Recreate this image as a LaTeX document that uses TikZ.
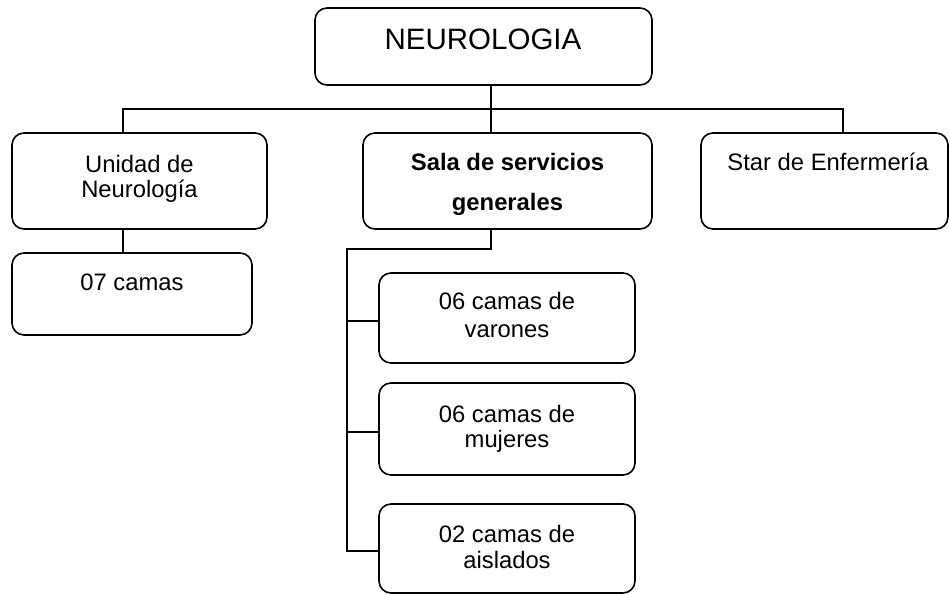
\documentclass[tikz,border=0pt]{standalone}
\usepackage{fontspec}
\setmainfont{Liberation Sans}
\begin{document}
\begin{tikzpicture}[x=1pt,y=-1pt,
  box/.style={draw, line width=1.6pt, rounded corners=12pt, inner sep=0pt},
  lbl/.style={inner sep=0pt, align=center},
  conn/.style={line width=1.6pt}]
\useasboundingbox (0,0) rectangle (950,594);
% boxes
\node[box, minimum width=337pt, minimum height=77pt] (N) at (483.5,46.5) {};
\node[box, minimum width=255pt, minimum height=96pt] (U) at (139.5,181) {};
\node[box, minimum width=289pt, minimum height=96pt] (S) at (507.5,181) {};
\node[box, minimum width=247pt, minimum height=96pt] (E) at (824.5,181) {};
\node[box, minimum width=240pt, minimum height=82pt] (C) at (132,294) {};
\node[box, minimum width=256pt, minimum height=90pt] (V) at (507,318) {};
\node[box, minimum width=256pt, minimum height=92pt] (M) at (507,429) {};
\node[box, minimum width=256pt, minimum height=89pt] (A) at (507,548.5) {};
% labels
\node[lbl, anchor=base, font=\fontsize{29.5}{32}\selectfont] (Nt) at (483,50) {NEUROLOGIA};
\node[lbl, anchor=north, font=\fontsize{23.8}{25}\selectfont] (Ut) at (139.5,155) {Unidad de\\Neurología};
\node[lbl, anchor=north, font=\fontsize{23.8}{40}\selectfont\bfseries] (St) at (507.5,153) {Sala de servicios\\generales};
\node[lbl, anchor=base, font=\fontsize{23.8}{25}\selectfont] (Et) at (828,170) {Star de Enfermería};
\node[lbl, anchor=base, font=\fontsize{23.8}{25}\selectfont] (Ct) at (132,290) {07 camas};
\node[lbl, anchor=north, font=\fontsize{23.8}{28}\selectfont] (Vt) at (507,292) {06 camas de\\varones};
\node[lbl, anchor=north, font=\fontsize{23.8}{25}\selectfont] (Mt) at (507,405) {06 camas de\\mujeres};
\node[lbl, anchor=north, font=\fontsize{23.8}{26}\selectfont] (At) at (507,525) {02 camas de\\aislados};
% connectors
\coordinate (jL) at (123,109);
\coordinate (jM) at (491,109);
\coordinate (jR) at (843,109);
\draw[conn] (jM |- N.south) -- (jM);
\draw[conn] (jL |- U.north) -- (jL) -- (jR) -- (jR |- E.north);
\draw[conn] (jM) -- (jM |- S.north);
\draw[conn] (jL |- U.south) -- (jL |- C.north);
\coordinate (k1) at (491,249);
\coordinate (k2) at (347,249);
\coordinate (b1) at (347,321);
\coordinate (b2) at (347,432);
\coordinate (b3) at (347,551);
\draw[conn] (k1 |- S.south) -- (k1) -- (k2) -- (b3) -- (b3 -| A.west);
\draw[conn] (b1) -- (b1 -| V.west);
\draw[conn] (b2) -- (b2 -| M.west);
\end{tikzpicture}
\end{document}
